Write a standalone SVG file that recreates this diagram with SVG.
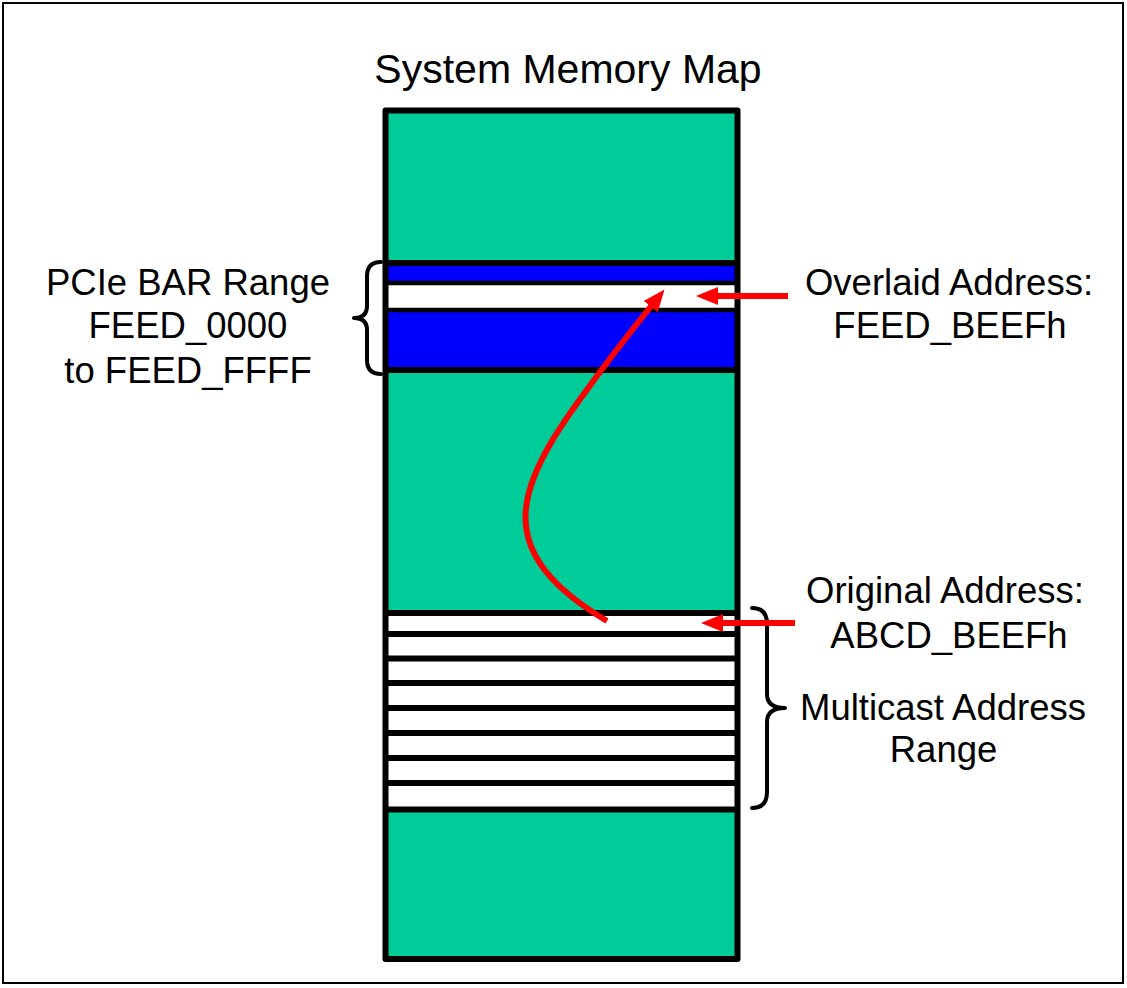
<svg xmlns="http://www.w3.org/2000/svg" width="1127" height="988" viewBox="0 0 1127 988">
  <style>
    .lbl { font-family: "Liberation Sans", Arial, sans-serif; font-size: 36.5px; fill: #000; text-anchor: middle; }
    .title { font-family: "Liberation Sans", Arial, sans-serif; font-size: 41px; fill: #000; text-anchor: middle; }
    .band { stroke: #000; stroke-width: 6; fill: none; }
    .thin { stroke: #000; stroke-width: 4.5; fill: none; }
    .brace { stroke: #000; stroke-width: 4; fill: none; stroke-linecap: round; stroke-linejoin: round; }
    .red { stroke: #ff0000; stroke-width: 6; fill: none; }
  </style>
  <defs>
    <marker id="ah" markerUnits="userSpaceOnUse" markerWidth="24" markerHeight="20" refX="2" refY="10" orient="auto" viewBox="0 0 24 20">
      <path d="M0,1 L22,10 L0,19 z" fill="#ff0000"/>
    </marker>
  </defs>
  <rect x="0" y="0" width="1127" height="988" fill="#fff"/>
  <rect x="3" y="3" width="1120" height="980" fill="none" stroke="#000" stroke-width="2"/>

  <g id="title">
    <text class="title" x="568" y="83">System Memory Map</text>
  </g>

  <g id="memory-map">
    <rect x="385.5" y="110.5" width="352" height="848.5" fill="#00cc99"/>
    <rect x="385.5" y="263" width="352" height="107" fill="#0000ff"/>
    <rect x="385.5" y="283" width="352" height="27" fill="#fff"/>
    <rect x="385.5" y="613" width="352" height="196.5" fill="#fff"/>
    <g id="bar-lines">
      <line class="band" x1="385.5" y1="263" x2="737.5" y2="263"/>
      <line class="thin" x1="385.5" y1="283" x2="737.5" y2="283"/>
      <line class="thin" x1="385.5" y1="310" x2="737.5" y2="310"/>
      <line class="band" x1="385.5" y1="370" x2="737.5" y2="370"/>
    </g>
    <g id="multicast-lines">
      <line class="band" x1="385.5" y1="613" x2="737.5" y2="613"/>
      <line class="band" x1="385.5" y1="634" x2="737.5" y2="634"/>
      <line class="band" x1="385.5" y1="658.5" x2="737.5" y2="658.5"/>
      <line class="band" x1="385.5" y1="683" x2="737.5" y2="683"/>
      <line class="band" x1="385.5" y1="708" x2="737.5" y2="708"/>
      <line class="band" x1="385.5" y1="733" x2="737.5" y2="733"/>
      <line class="band" x1="385.5" y1="758" x2="737.5" y2="758"/>
      <line class="band" x1="385.5" y1="783" x2="737.5" y2="783"/>
      <line class="band" x1="385.5" y1="809.5" x2="737.5" y2="809.5"/>
    </g>
    <rect x="385.5" y="110.5" width="352" height="848.5" fill="none" stroke="#000" stroke-width="6" stroke-linejoin="round"/>
  </g>

  <g id="pcie-label">
    <path class="brace" d="M381,262 Q367,262 367,276 L367,306 Q367,318 354,318 Q367,318 367,330 L367,360 Q367,374 381,374"/>
    <text class="lbl" x="188" y="295">PCIe BAR Range</text>
    <text class="lbl" x="188" y="338">FEED_0000</text>
    <text class="lbl" x="188" y="383">to FEED_FFFF</text>
  </g>

  <g id="overlaid-label">
    <text class="lbl" x="949" y="295">Overlaid Address:</text>
    <text class="lbl" x="950" y="338">FEED_BEEFh</text>
  </g>

  <g id="original-label">
    <text class="lbl" x="945" y="603">Original Address:</text>
    <text class="lbl" x="949" y="648">ABCD_BEEFh</text>
  </g>

  <g id="multicast-label">
    <path class="brace" d="M752,608 Q767,608 767,624 L767,694 Q767,708 785,708 Q767,708 767,722 L767,792 Q767,808 752,808"/>
    <text class="lbl" x="943" y="720">Multicast Address</text>
    <text class="lbl" x="943.5" y="762">Range</text>
  </g>

  <g id="connectors">
    <path class="red" d="M607,621 C555,590 521,555 526,508 C531,462 572,410 600,372 C620,345 640,320 652,305" marker-end="url(#ah)"/>
    <line class="red" x1="788" y1="296" x2="716" y2="296" marker-end="url(#ah)"/>
    <line class="red" x1="795" y1="623" x2="721" y2="623" marker-end="url(#ah)"/>
  </g>
</svg>
